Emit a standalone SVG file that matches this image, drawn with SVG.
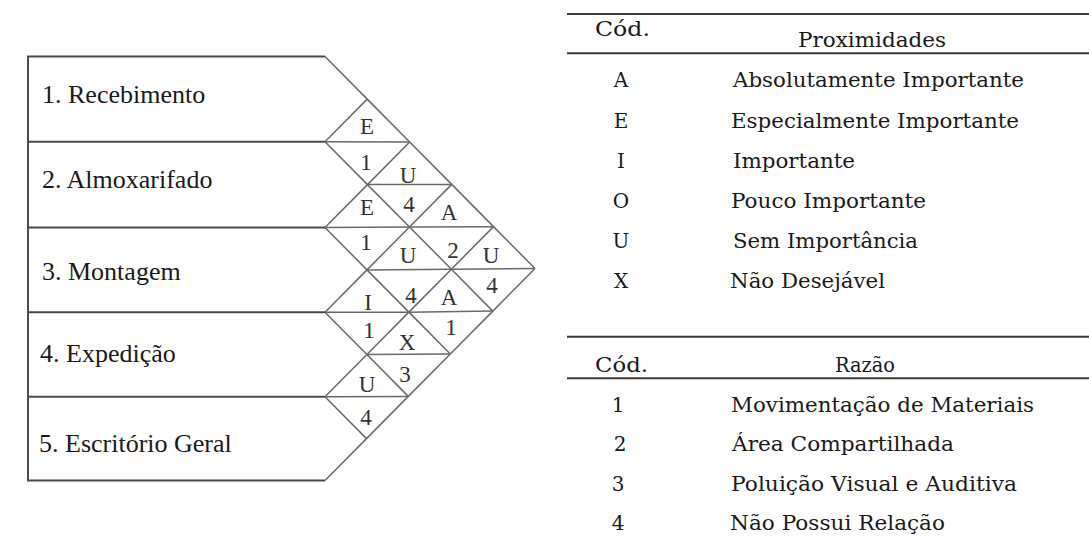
<svg xmlns="http://www.w3.org/2000/svg" width="1089" height="536" viewBox="0 0 1089 536">
<style>
.box{fill:none;stroke:#4a4a4a;stroke-width:2}
.dg{fill:none;stroke:#6a6a6a;stroke-width:1.5;stroke-linejoin:round}
.lbl{font-family:"Liberation Serif","Times New Roman",serif;font-size:26px;fill:#1a1a1a}
.cell{font-family:"Liberation Serif","Times New Roman",serif;font-size:23px;fill:#333;text-anchor:middle}
.tb{font-family:"DejaVu Serif","Liberation Serif",serif;font-size:21px;fill:#1a1a1a}
.cd{text-anchor:middle;font-size:20px}
.rule{stroke:#3a3a3a;stroke-width:2}
</style>
<rect width="1089" height="536" fill="#fff"/>

<g id="departments">
  <path class="box" d="M325,56.5 H28 V480.5 H325"/>
  <g id="dept1"><text class="lbl" x="42" y="103">1. Recebimento</text></g>
  <line class="box" x1="28" y1="141.7" x2="325" y2="141.7"/>
  <g id="dept2"><text class="lbl" x="42" y="188.3">2. Almoxarifado</text></g>
  <line class="box" x1="28" y1="227.5" x2="325" y2="227.5"/>
  <g id="dept3"><text class="lbl" x="42" y="280">3. Montagem</text></g>
  <line class="box" x1="28" y1="312.3" x2="325" y2="312.3"/>
  <g id="dept4"><text class="lbl" x="40" y="361.7">4. Expedição</text></g>
  <line class="box" x1="28" y1="396.8" x2="325" y2="396.8"/>
  <g id="dept5"><text class="lbl" x="39" y="451.7">5. Escritório Geral</text></g>
</g>

<g id="grid">
  <polyline class="dg" points="325,56.5 367.2,99.1 409.7,142 451.7,184.4 493.5,226.65 535,268.5"/>
  <polyline class="dg" points="325,141.7 367.5,184.6 409.5,227 451.4,269.25 492.8,311.1"/>
  <polyline class="dg" points="325,227.5 367,269.9 408.9,312.15 450.3,354"/>
  <polyline class="dg" points="325,312.3 366.9,354.55 408.3,396.4"/>
  <polyline class="dg" points="325,396.8 366.5,438.65"/>
  <polyline class="dg" points="325,480.5 366.5,438.65 408.3,396.4 450.3,354 492.8,311.1 535,268.5"/>
  <polyline class="dg" points="325,396.8 366.9,354.55 408.9,312.15 451.4,269.25 493.5,226.65"/>
  <polyline class="dg" points="325,312.3 367,269.9 409.5,227 451.7,184.4"/>
  <polyline class="dg" points="325,227.5 367.5,184.6 409.7,142"/>
  <polyline class="dg" points="325,141.7 367.2,99.1"/>
  <line class="dg" x1="325" y1="141.7" x2="409.7" y2="142"/>
  <line class="dg" x1="325" y1="227.5" x2="409.5" y2="227"/>
  <line class="dg" x1="325" y1="312.3" x2="408.9" y2="312.15"/>
  <line class="dg" x1="325" y1="396.8" x2="408.3" y2="396.4"/>
  <line class="dg" x1="367.5" y1="184.6" x2="451.7" y2="184.4"/>
  <line class="dg" x1="367" y1="269.9" x2="451.4" y2="269.25"/>
  <line class="dg" x1="366.9" y1="354.55" x2="450.3" y2="354"/>
  <line class="dg" x1="409.5" y1="227" x2="493.5" y2="226.65"/>
  <line class="dg" x1="408.9" y1="312.15" x2="492.8" y2="311.1"/>
  <line class="dg" x1="451.4" y1="269.25" x2="535" y2="268.5"/>
</g>

<g id="cells">
  <g id="c12"><text class="cell" x="367" y="134">E</text><text class="cell" x="366" y="170">1</text></g>
  <g id="c13"><text class="cell" x="408" y="183">U</text><text class="cell" x="409" y="212">4</text></g>
  <g id="c14"><text class="cell" x="449" y="220">A</text><text class="cell" x="453" y="258">2</text></g>
  <g id="c15"><text class="cell" x="491" y="263">U</text><text class="cell" x="492" y="293">4</text></g>
  <g id="c23"><text class="cell" x="367" y="215">E</text><text class="cell" x="366" y="250">1</text></g>
  <g id="c24"><text class="cell" x="408" y="263">U</text><text class="cell" x="411" y="303">4</text></g>
  <g id="c25"><text class="cell" x="449" y="305">A</text><text class="cell" x="451" y="335">1</text></g>
  <g id="c34"><text class="cell" x="368" y="310">I</text><text class="cell" x="369" y="338">1</text></g>
  <g id="c35"><text class="cell" x="407" y="350">X</text><text class="cell" x="405" y="382">3</text></g>
  <g id="c45"><text class="cell" x="367" y="392">U</text><text class="cell" x="366" y="425">4</text></g>
</g>

<g id="table-proximidades">
  <line class="rule" x1="567" y1="14" x2="1089" y2="14"/>
  <line class="rule" x1="567" y1="53.3" x2="1089" y2="53.3"/>
  <text class="tb" x="595" y="36" textLength="55" lengthAdjust="spacingAndGlyphs">Cód.</text>
  <text class="tb" x="798" y="46.7" textLength="148" lengthAdjust="spacingAndGlyphs">Proximidades</text>
  <text class="tb cd" x="621" y="87.3">A</text>
  <text class="tb" x="733" y="87.3" textLength="291" lengthAdjust="spacingAndGlyphs">Absolutamente Importante</text>
  <text class="tb cd" x="621" y="127.5">E</text>
  <text class="tb" x="731" y="127.5" textLength="288" lengthAdjust="spacingAndGlyphs">Especialmente Importante</text>
  <text class="tb cd" x="621" y="167.7">I</text>
  <text class="tb" x="733" y="167.7" textLength="122" lengthAdjust="spacingAndGlyphs">Importante</text>
  <text class="tb cd" x="621" y="207.9">O</text>
  <text class="tb" x="731" y="207.9" textLength="195" lengthAdjust="spacingAndGlyphs">Pouco Importante</text>
  <text class="tb cd" x="621" y="248.1">U</text>
  <text class="tb" x="733" y="248.1" textLength="185" lengthAdjust="spacingAndGlyphs">Sem Importância</text>
  <text class="tb cd" x="621" y="288.3">X</text>
  <text class="tb" x="730" y="288.3" textLength="155" lengthAdjust="spacingAndGlyphs">Não Desejável</text>
</g>

<g id="table-razao">
  <line class="rule" x1="567" y1="336.7" x2="1089" y2="336.7"/>
  <line class="rule" x1="567" y1="378.3" x2="1089" y2="378.3"/>
  <text class="tb" x="595" y="371.7" textLength="53" lengthAdjust="spacingAndGlyphs">Cód.</text>
  <text class="tb" x="835" y="371.7" textLength="60" lengthAdjust="spacingAndGlyphs">Razão</text>
  <text class="tb cd" x="618" y="411.7">1</text>
  <text class="tb" x="731" y="411.7" textLength="303" lengthAdjust="spacingAndGlyphs">Movimentação de Materiais</text>
  <text class="tb cd" x="620" y="451.2">2</text>
  <text class="tb" x="732" y="451.2" textLength="222" lengthAdjust="spacingAndGlyphs">Área Compartilhada</text>
  <text class="tb cd" x="618" y="490.7">3</text>
  <text class="tb" x="731" y="490.7" textLength="286" lengthAdjust="spacingAndGlyphs">Poluição Visual e Auditiva</text>
  <text class="tb cd" x="618" y="530.2">4</text>
  <text class="tb" x="730" y="530.2" textLength="215" lengthAdjust="spacingAndGlyphs">Não Possui Relação</text>
</g>
</svg>
